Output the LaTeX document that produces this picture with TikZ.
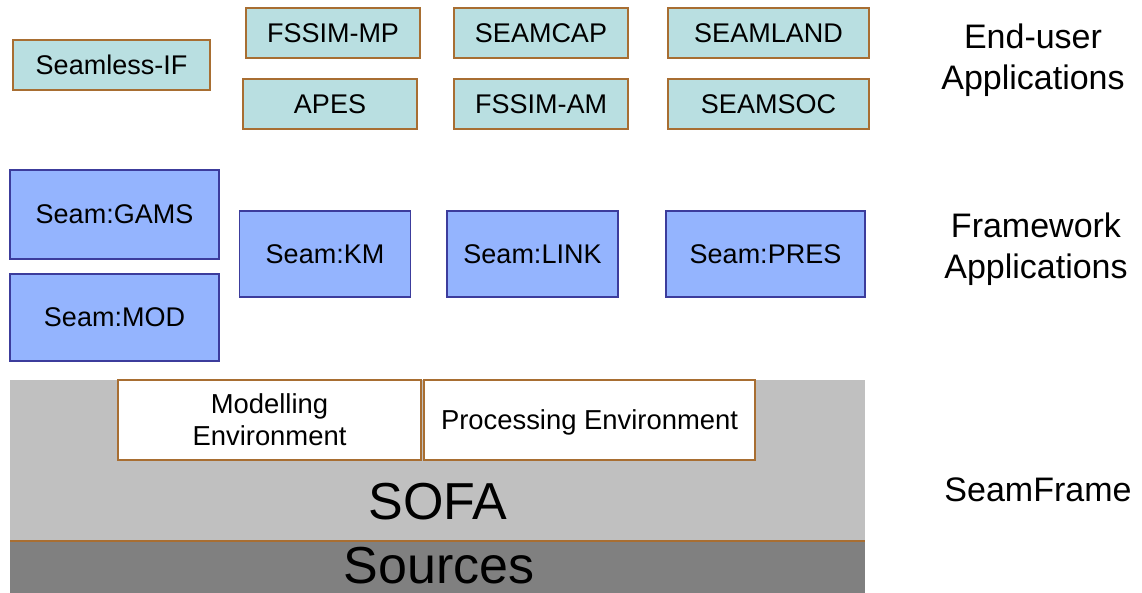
\documentclass[tikz,border=0pt]{standalone}
\usepackage{fontspec}
\setmainfont{Liberation Sans}
\usetikzlibrary{positioning}

\definecolor{tealfill}{RGB}{185,223,225}
\definecolor{bluefill}{RGB}{148,180,254}
\definecolor{brownline}{RGB}{168,110,50}
\definecolor{blueline}{RGB}{60,60,156}
\definecolor{sofagray}{RGB}{192,192,192}
\definecolor{srcgray}{RGB}{128,128,128}

\tikzset{
	enduser/.style={draw=brownline, fill=tealfill, line width=0.8pt, minimum height=25pt,
		inner sep=0pt, font=\fontsize{13.5}{16}\selectfont},
	framework/.style={draw=blueline, fill=bluefill, line width=0.8pt,
		inner sep=0pt, font=\fontsize{13.5}{16}\selectfont},
	envbox/.style={draw=brownline, fill=white, line width=0.6pt, minimum height=40pt,
		inner sep=0pt, align=center, font=\fontsize{13.7}{16}\selectfont},
	layertext/.style={align=center, font=\fontsize{17}{20.5}\selectfont}
}

\begin{document}
\begin{tikzpicture}[x=0.5pt, y=-0.5pt]
	\useasboundingbox (0,0) rectangle (1142,593);

	%SeamFrame layers
	\fill [sofagray] (10,380) rectangle (865,541);
	\fill [srcgray] (10,541) rectangle (865,600);
	\draw [brownline, line width=0.6pt] (10,541) -- (865,541);
	\node (sofa) at (438,502) {\fontsize{26}{30}\selectfont SOFA};
	\node (sources) at (439,566) {\fontsize{26}{30}\selectfont Sources};

	\node [envbox, minimum width=151.5pt] (modelling) at (269.5,420) {Modelling\\Environment};
	\node [envbox, minimum width=165.5pt, text depth=0pt] (processing) at (589.5,420) {Processing Environment};

	%Framework applications
	\node [framework, minimum width=104.5pt, minimum height=44.5pt] (gams) at (114.5,214.5) {Seam:GAMS};
	\node [framework, minimum width=104.5pt, minimum height=43.5pt] (mod) at (114.5,317.5) {Seam:MOD};
	\node [framework, minimum width=85.5pt, minimum height=43pt] (km) at (325,254) {Seam:KM};
	\node [framework, minimum width=85.5pt, minimum height=43pt] (link) at (532.5,254) {Seam:LINK};
	\node [framework, minimum width=99.5pt, minimum height=43pt] (pres) at (765.5,254) {Seam:PRES};

	%End-user applications
	\node [enduser, minimum width=98.5pt] (seamlessif) at (111.5,65) {Seamless-IF};
	\foreach \name/\label/\xPos/\yPos/\width in {fssimmp/FSSIM-MP/333/33/87, apes/APES/330/104/87,
		seamcap/SEAMCAP/541/33/87, fssimam/FSSIM-AM/541/104/87,
		seamland/SEAMLAND/768.5/33/100.5, seamsoc/SEAMSOC/768.5/104/100.5}{
		\node [enduser, minimum width=\width pt] (\name) at (\xPos,\yPos) {\label};
	}

	%Layer names
	\node [layertext] (enduserlbl) at (1033,60) {End-user\\Applications};
	\node [layertext] (frameworklbl) at (1036,249) {Framework\\Applications};
	\node [layertext] (seamframelbl) at (1038,490) {SeamFrame};
\end{tikzpicture}
\end{document}
